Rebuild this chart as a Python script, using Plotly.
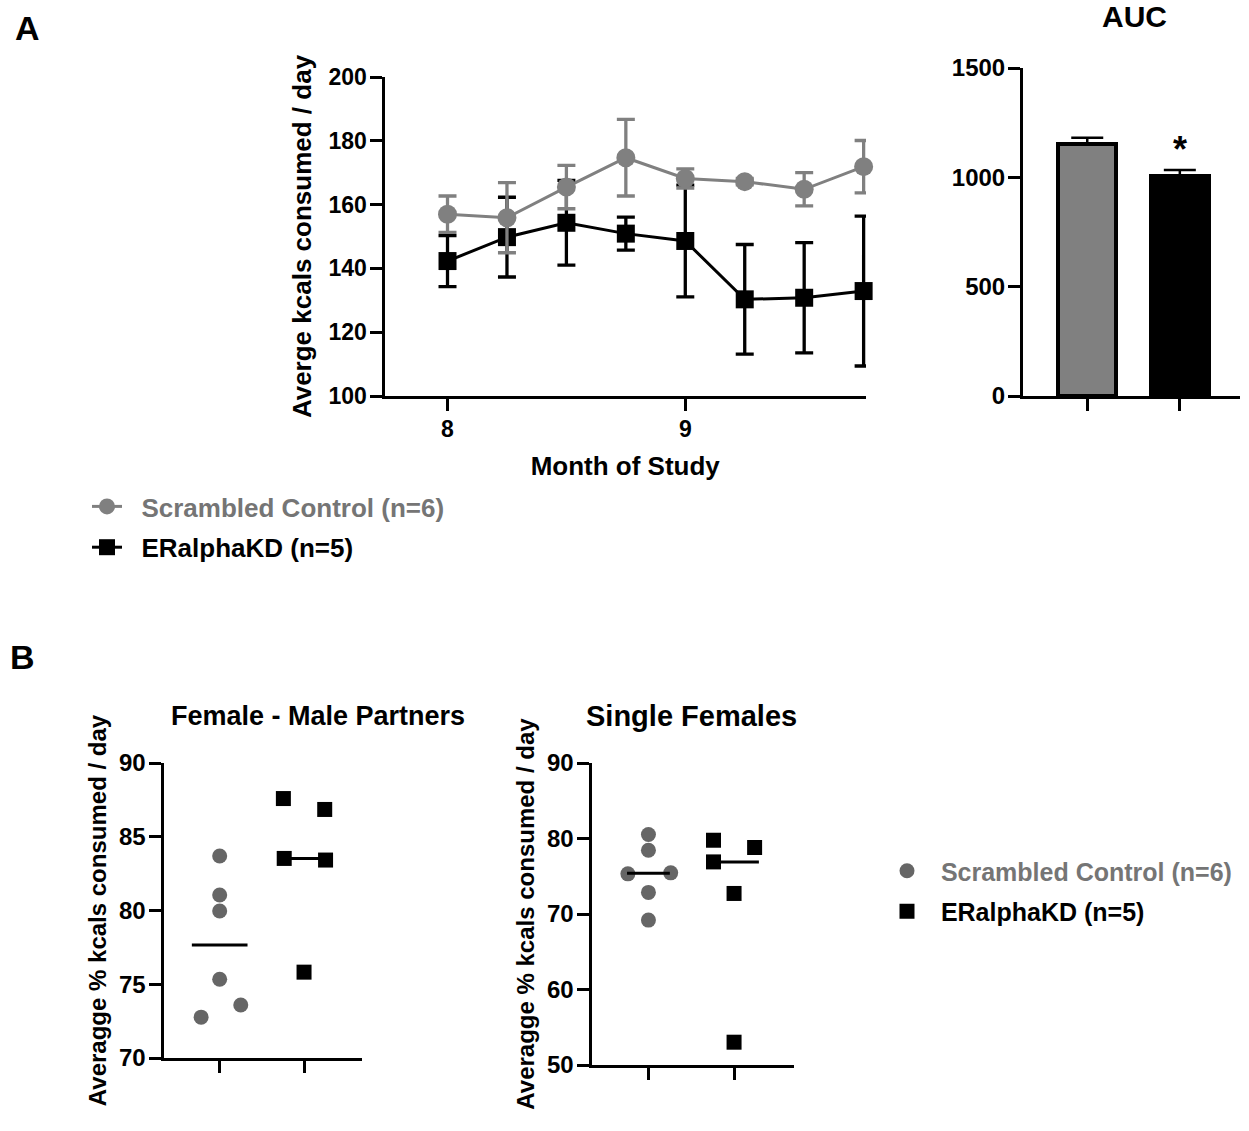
import numpy as np
import plotly.graph_objects as go

W, H = 1249, 1131
FONT = "Arial, 'Liberation Sans', sans-serif"

# ---------------- data ----------------
months = [8, 8.25, 8.5, 8.75, 9, 9.25, 9.5, 9.75]
ctrl_mean = [157.0, 155.9, 165.5, 174.7, 168.2, 167.2, 164.8, 171.9]
ctrl_sem = [5.7, 11.0, 6.8, 12.0, 3.0, 1.0, 5.2, 8.2]
kd_mean = [142.3, 149.8, 154.3, 150.9, 148.6, 130.3, 130.8, 132.9]
kd_sem = [8.0, 12.5, 13.3, 5.2, 17.5, 17.2, 17.3, 23.5]

auc_groups = ["Scrambled Control", "ERalphaKD"]
auc_mean = [1154, 1006]
auc_sem = [27, 27]

fm_ctrl = [83.69, 81.05, 79.97, 75.34, 73.59, 72.77]
fm_kd = [87.59, 86.85, 83.53, 83.42, 75.82]
sf_ctrl = [80.53, 78.45, 75.32, 75.45, 72.86, 69.19]
sf_kd = [79.77, 76.9, 78.81, 72.72, 53.02]

ctrl_label = "Scrambled Control (n=6)"
kd_label = "ERalphaKD (n=5)"

# ---------------- style ----------------
GREY = "#808080"
DGREY = "#666666"
TGREY = "#757575"
fm_ctrl_jit = [0, 0, 0, 0, 0.25, -0.22]
fm_kd_jit = [-0.245, 0.245, -0.235, 0.255, 0]
sf_ctrl_jit = [0, 0, -0.24, 0.26, 0, 0]
sf_kd_jit = [-0.24, -0.24, 0.24, 0, 0]
median_half = {"fm_ctrl": 0.33, "fm_kd": 0.25, "sf_ctrl": 0.25, "sf_kd": 0.29}


def px(x):
    return x / W


def py(y):
    return 1 - y / H


NB = "\u00a0\u00a0"

fig = go.Figure()

# ---------- Panel A: line chart ----------
fig.add_trace(go.Scatter(
    x=months, y=kd_mean, mode="lines+markers", name=NB + kd_label,
    line=dict(color="black", width=3),
    marker=dict(symbol="square", size=18, color="black"),
    error_y=dict(type="data", array=kd_sem, color="black", thickness=3.3, width=9),
    xaxis="x", yaxis="y", legend="legend", legendrank=2, legendgroup="a2",
    cliponaxis=False,
))
fig.add_trace(go.Scatter(
    x=months, y=ctrl_mean, mode="lines+markers",
    name=NB + f'<span style="color:{TGREY}">{ctrl_label}</span>',
    line=dict(color=GREY, width=3),
    marker=dict(symbol="circle", size=19, color=GREY),
    error_y=dict(type="data", array=ctrl_sem, color=GREY, thickness=3.3, width=9),
    xaxis="x", yaxis="y", legend="legend", legendrank=1, legendgroup="a1",
    cliponaxis=False,
))

# ---------- AUC bars ----------
fig.add_trace(go.Bar(
    x=auc_groups, y=auc_mean, width=0.63,
    marker=dict(color=[GREY, "black"], line=dict(color="black", width=4)),
    error_y=dict(type="data", symmetric=False, array=auc_sem,
                 arrayminus=[0] * len(auc_sem), color="black", thickness=2.5, width=16),
    xaxis="x2", yaxis="y2", showlegend=False,
))

# ---------- Panel B scatter ----------
def scatter_group(vals, jit, gi, symbol, color, size, xa, ya, name, show, rank, grp):
    xs = [gi + j for j in jit]
    fig.add_trace(go.Scatter(
        x=xs, y=vals, mode="markers", name=name,
        marker=dict(symbol=symbol, size=size, color=color),
        xaxis=xa, yaxis=ya, showlegend=show, legend="legend2",
        legendrank=rank, legendgroup=grp, cliponaxis=False,
    ))


def median_line(vals, gi, half, xa, ya):
    m = float(np.median(vals))
    fig.add_trace(go.Scatter(
        x=[gi - half, gi + half], y=[m, m], mode="lines",
        line=dict(color="black", width=3), xaxis=xa, yaxis=ya,
        showlegend=False, hoverinfo="skip",
    ))


ctrl_name_b = NB + f'<span style="color:{TGREY}">{ctrl_label}</span>'
kd_name_b = NB + kd_label

scatter_group(fm_ctrl, fm_ctrl_jit, 0, "circle", DGREY, 15, "x3", "y3", ctrl_name_b, True, 1, "b1")
scatter_group(fm_kd, fm_kd_jit, 1, "square", "black", 15, "x3", "y3", kd_name_b, True, 2, "b2")
median_line(fm_ctrl, 0, median_half["fm_ctrl"], "x3", "y3")
median_line(fm_kd, 1, median_half["fm_kd"], "x3", "y3")

scatter_group(sf_ctrl, sf_ctrl_jit, 0, "circle", DGREY, 15, "x4", "y4", ctrl_name_b, False, 1, "b1")
scatter_group(sf_kd, sf_kd_jit, 1, "square", "black", 15, "x4", "y4", kd_name_b, False, 2, "b2")
median_line(sf_ctrl, 0, median_half["sf_ctrl"], "x4", "y4")
median_line(sf_kd, 1, median_half["sf_kd"], "x4", "y4")

# ---------------- axes ----------------
def ax_common(size):
    return dict(
        showline=True, linecolor="black", linewidth=3, ticks="outside",
        ticklen=12, tickwidth=3, tickcolor="black", showgrid=False, automargin=False,
        ticklabelstandoff=-2,
        zeroline=False, tickfont=dict(family=FONT, size=size, color="black", weight="bold"),
    )


def title(text, size, standoff):
    return dict(text=text, font=dict(family=FONT, size=size, color="black", weight="bold"),
                standoff=standoff)


fig.update_layout(
    xaxis=dict(**ax_common(23), domain=[px(384.5), px(866)], range=[7.735, 9.76],
               tickvals=[8, 9], anchor="y", title=title("Month of Study", 26, 17)),
    yaxis=dict(**ax_common(23), domain=[py(396), py(77)], range=[100, 200],
               tickvals=[100, 120, 140, 160, 180, 200], anchor="x",
               title=title("Averge kcals consumed / day", 26, 10)),
    xaxis2=dict(**ax_common(22), domain=[px(1023), px(1240)], range=[-0.694, 1.65],
                showticklabels=False, anchor="y2", type="category"),
    yaxis2=dict(**ax_common(24), domain=[py(396), py(68)], range=[0, 1500],
                tickvals=[0, 500, 1000, 1500], anchor="x2"),
    xaxis3=dict(**ax_common(22), domain=[px(163.5), px(362)], range=[-0.666, 1.687],
                tickvals=[0, 1], showticklabels=False, anchor="y3"),
    yaxis3=dict(**ax_common(24), domain=[py(1058), py(763)], range=[70, 90],
                tickvals=[70, 75, 80, 85, 90], anchor="x3",
                title=title("Averagge % kcals consumed / day", 24, 6)),
    xaxis4=dict(**ax_common(22), domain=[px(591.5), px(794)], range=[-0.665, 1.70],
                tickvals=[0, 1], showticklabels=False, anchor="y4"),
    yaxis4=dict(**ax_common(24), domain=[py(1065), py(763)], range=[50, 90],
                tickvals=[50, 60, 70, 80, 90], anchor="x4",
                title=title("Averagge % kcals consumed / day", 24, 6)),
)

# ---------------- legends ----------------
leg_font = dict(family=FONT, size=26, color="black", weight="bold")
leg_font2 = dict(family=FONT, size=25, color="black", weight="bold")
fig.update_layout(
    legend=dict(x=px(87), y=py(483), xanchor="left", yanchor="top", font=leg_font,
                bgcolor="rgba(0,0,0,0)", tracegroupgap=4, traceorder="grouped"),
    legend2=dict(x=px(887), y=py(848), xanchor="left", yanchor="top", font=leg_font2,
                 bgcolor="rgba(0,0,0,0)", tracegroupgap=5, traceorder="grouped"),
)

# ---------------- annotations ----------------
def ann(text, x, y, size, xref="paper", yref="paper", **kw):
    d = dict(text=text, x=x, y=y, xref=xref, yref=yref, showarrow=False,
             font=dict(family=FONT, size=size, color="black", weight="bold"))
    d.setdefault("xanchor", "center")
    d.setdefault("yanchor", "middle")
    d.update(kw)
    return d


fig.update_layout(annotations=[
    ann("A", px(28), py(28), 34),
    ann("B", px(22), py(657), 34),
    ann("AUC", px(1134), py(16), 30),
    ann("Female - Male Partners", px(318), py(716), 27),
    ann("Single Females", px(691), py(716), 29),
    ann("*", auc_groups[1], auc_mean[1] + auc_sem[1], 36, xref="x2", yref="y2",
        yanchor="bottom", yshift=-2),
])

fig.update_layout(
    width=W, height=H, autosize=False,
    margin=dict(l=0, r=0, t=0, b=0, autoexpand=False),
    paper_bgcolor="white", plot_bgcolor="white",
    font=dict(family=FONT, color="black", size=22, weight="bold"),
    bargap=0,
)

# remove the default page margin so the fixed-size figure sits at the window origin
fig.write_html("out.html", config={"displayModeBar": False},
               post_script="document.body.style.margin='0';")
